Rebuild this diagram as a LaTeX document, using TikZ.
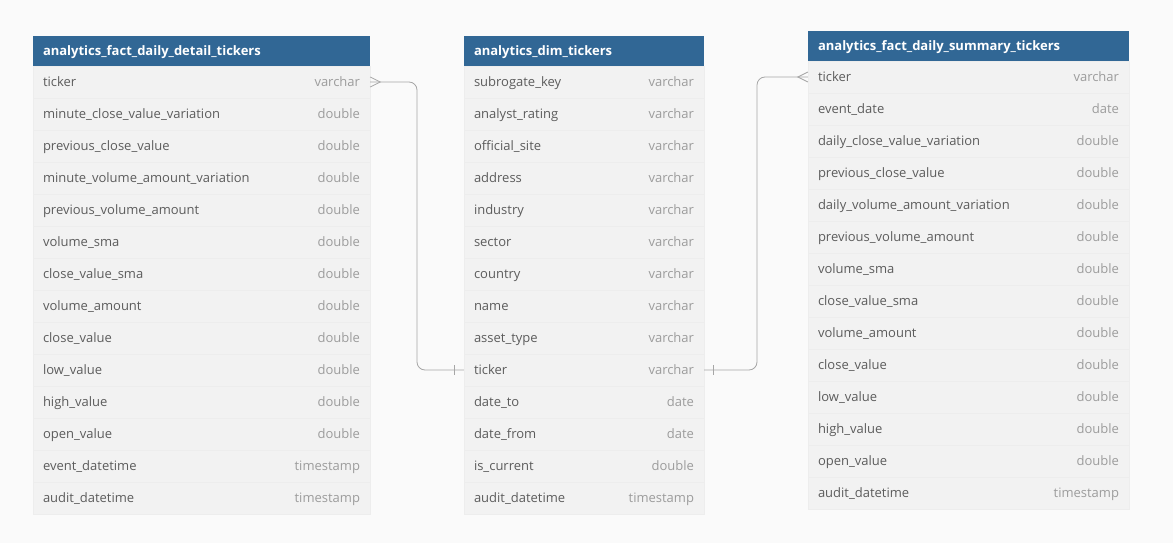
\documentclass[tikz,border=0pt]{standalone}
\usepackage{fontspec}
\setmainfont{Open Sans}
\usetikzlibrary{calc}
\definecolor{headblue}{HTML}{316795}
\definecolor{rowfill}{HTML}{F2F2F2}
\definecolor{rowline}{HTML}{EDEDED}
\definecolor{pagebg}{HTML}{FAFAFA}
\definecolor{nametext}{HTML}{5C5C5C}
\definecolor{typetext}{HTML}{9C9C9C}
\definecolor{linkgray}{HTML}{A6A6A6}
\newcommand{\typ}[1]{\hfill\textcolor{typetext}{#1}}

\begin{document}
\begin{tikzpicture}[x=1pt,y=-1pt,
    head/.style={rectangle,fill=headblue,text=white,font=\fontsize{13}{15}\selectfont\bfseries,inner xsep=10pt,inner ysep=0pt,text height=12pt,text depth=3pt,minimum height=30pt,align=left},
    row/.style={rectangle,fill=rowfill,draw=rowline,line width=.3pt,text=nametext,font=\fontsize{13}{15}\selectfont,inner xsep=10pt,inner ysep=0pt,text height=12pt,text depth=3pt,minimum height=32pt,align=left},
    conn/.style={draw=linkgray,line width=.8pt}]
        \fill[pagebg] (0,0) rectangle (1173,543);
        \useasboundingbox (0,0) rectangle (1173,543);
        % analytics_fact_daily_detail_tickers
        \begin{scope}[head/.append style={text width=317pt},row/.append style={text width=317pt}]
        \node [row] (t1ticker) at (201.5,82) {ticker\typ{varchar}};
        \node [row] (t1mcvv) at (201.5,114) {minute\_close\_value\_variation\typ{double}};
        \node [row] (t1pcv) at (201.5,146) {previous\_close\_value\typ{double}};
        \node [row] (t1mvav) at (201.5,178) {minute\_volume\_amount\_variation\typ{double}};
        \node [row] (t1pva) at (201.5,210) {previous\_volume\_amount\typ{double}};
        \node [row] (t1vsma) at (201.5,242) {volume\_sma\typ{double}};
        \node [row] (t1cvsma) at (201.5,274) {close\_value\_sma\typ{double}};
        \node [row] (t1va) at (201.5,306) {volume\_amount\typ{double}};
        \node [row] (t1cv) at (201.5,338) {close\_value\typ{double}};
        \node [row] (t1lv) at (201.5,370) {low\_value\typ{double}};
        \node [row] (t1hv) at (201.5,402) {high\_value\typ{double}};
        \node [row] (t1ov) at (201.5,434) {open\_value\typ{double}};
        \node [row] (t1edt) at (201.5,466) {event\_datetime\typ{timestamp}};
        \node [row] (t1adt) at (201.5,498) {audit\_datetime\typ{timestamp}};
        \node [head] (t1) at (201.5,51) {analytics\_fact\_daily\_detail\_tickers};
        \end{scope}
        % analytics_dim_tickers
        \begin{scope}[head/.append style={text width=220pt},row/.append style={text width=220pt}]
        \node [row] (t2key) at (584,82) {subrogate\_key\typ{varchar}};
        \node [row] (t2rating) at (584,114) {analyst\_rating\typ{varchar}};
        \node [row] (t2site) at (584,146) {official\_site\typ{varchar}};
        \node [row] (t2address) at (584,178) {address\typ{varchar}};
        \node [row] (t2industry) at (584,210) {industry\typ{varchar}};
        \node [row] (t2sector) at (584,242) {sector\typ{varchar}};
        \node [row] (t2country) at (584,274) {country\typ{varchar}};
        \node [row] (t2name) at (584,306) {name\typ{varchar}};
        \node [row] (t2asset) at (584,338) {asset\_type\typ{varchar}};
        \node [row] (t2ticker) at (584,370) {ticker\typ{varchar}};
        \node [row] (t2dto) at (584,402) {date\_to\typ{date}};
        \node [row] (t2dfrom) at (584,434) {date\_from\typ{date}};
        \node [row] (t2current) at (584,466) {is\_current\typ{double}};
        \node [row] (t2adt) at (584,498) {audit\_datetime\typ{timestamp}};
        \node [head] (t2) at (584,51) {analytics\_dim\_tickers};
        \end{scope}
        % analytics_fact_daily_summary_tickers
        \begin{scope}[head/.append style={text width=301pt},row/.append style={text width=301pt}]
        \node [row] (t3ticker) at (968.5,77) {ticker\typ{varchar}};
        \node [row] (t3edate) at (968.5,109) {event\_date\typ{date}};
        \node [row] (t3dcvv) at (968.5,141) {daily\_close\_value\_variation\typ{double}};
        \node [row] (t3pcv) at (968.5,173) {previous\_close\_value\typ{double}};
        \node [row] (t3dvav) at (968.5,205) {daily\_volume\_amount\_variation\typ{double}};
        \node [row] (t3pva) at (968.5,237) {previous\_volume\_amount\typ{double}};
        \node [row] (t3vsma) at (968.5,269) {volume\_sma\typ{double}};
        \node [row] (t3cvsma) at (968.5,301) {close\_value\_sma\typ{double}};
        \node [row] (t3va) at (968.5,333) {volume\_amount\typ{double}};
        \node [row] (t3cv) at (968.5,365) {close\_value\typ{double}};
        \node [row] (t3lv) at (968.5,397) {low\_value\typ{double}};
        \node [row] (t3hv) at (968.5,429) {high\_value\typ{double}};
        \node [row] (t3ov) at (968.5,461) {open\_value\typ{double}};
        \node [row] (t3adt) at (968.5,493) {audit\_datetime\typ{timestamp}};
        \node [head] (t3) at (968.5,46) {analytics\_fact\_daily\_summary\_tickers};
        \end{scope}
        % relations
        \coordinate (bendA) at (417,220);
        \coordinate (bendB) at (757,220);
        \draw[conn,rounded corners=8pt] (t1ticker.east) -| (bendA) |- (t2ticker.west);
        \draw[conn,rounded corners=8pt] (t2ticker.east) -| (bendB) |- (t3ticker.west);
        \draw[conn] ([yshift=5pt]t1ticker.east) -- ([xshift=10pt]t1ticker.east) -- ([yshift=-5pt]t1ticker.east);
        \draw[conn] ([xshift=-9pt,yshift=5pt]t2ticker.west) -- ([xshift=-9pt,yshift=-5pt]t2ticker.west);
        \draw[conn] ([xshift=9pt,yshift=5pt]t2ticker.east) -- ([xshift=9pt,yshift=-5pt]t2ticker.east);
        \draw[conn] ([yshift=5pt]t3ticker.west) -- ([xshift=-10pt]t3ticker.west) -- ([yshift=-5pt]t3ticker.west);
    \end{tikzpicture}
\end{document}
